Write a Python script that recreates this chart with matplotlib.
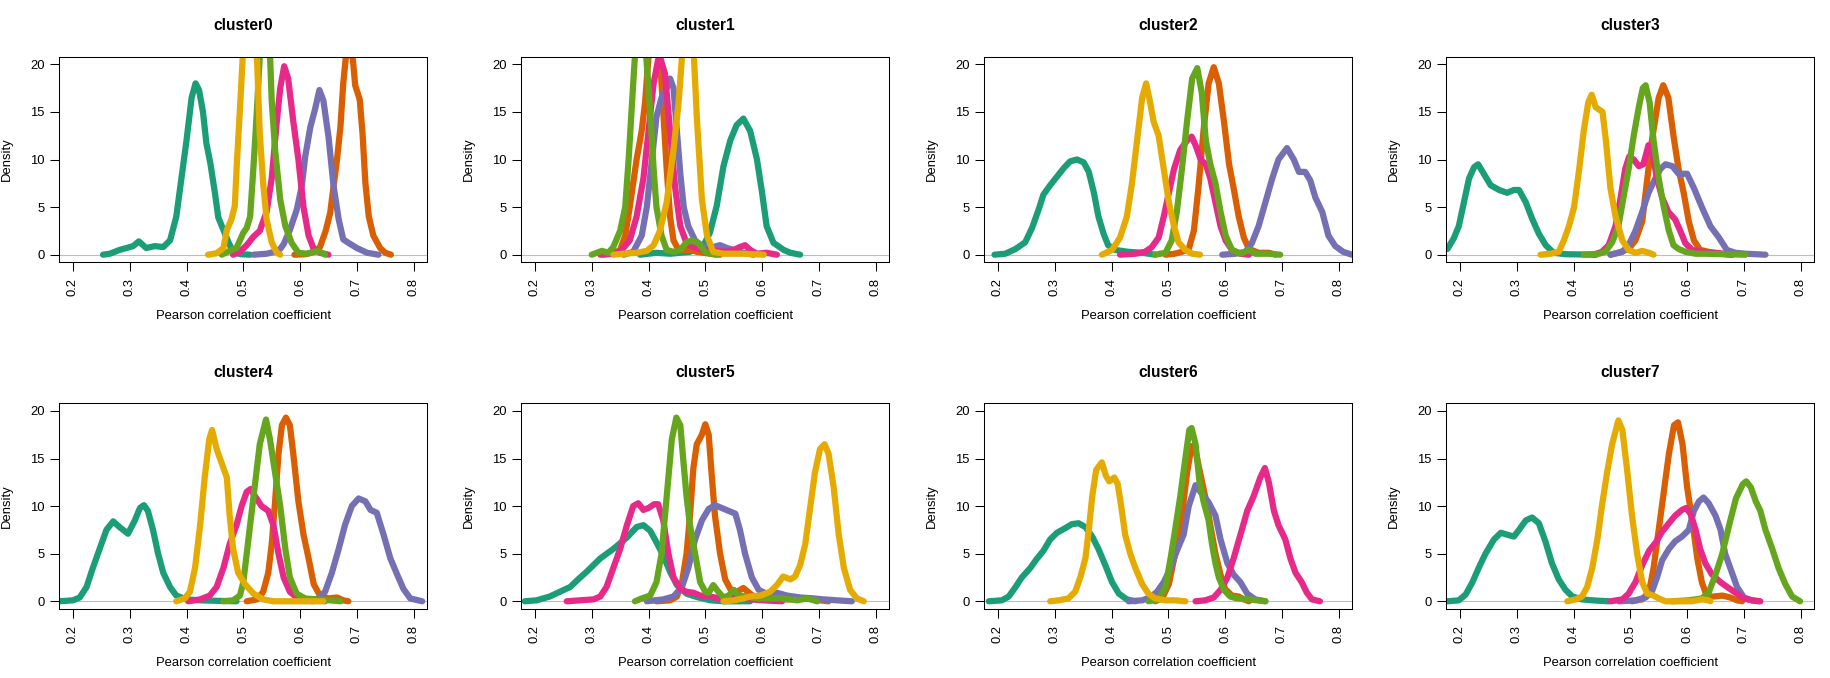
import matplotlib
matplotlib.use("Agg")
import matplotlib.pyplot as plt

plt.rcParams['font.family'] = ['Liberation Sans', 'DejaVu Sans']

# Dark2 colours, in drawing order
colors = ['#1B9E77', '#D95F02', '#7570B3', '#E7298A', '#66A61E', '#E6AB02']

titles = ['cluster0', 'cluster1', 'cluster2', 'cluster3',
          'cluster4', 'cluster5', 'cluster6', 'cluster7']
x_ticks = [0.2, 0.3, 0.4, 0.5, 0.6, 0.7, 0.8]
y_ticks = [0, 5, 10, 15, 20]

# density curves: (correlation, density)
# cluster0
c0_teal = [(0.253, 0), (0.265, 0.1), (0.282, 0.5), (0.300, 0.8), (0.306, 0.9), (0.316, 1.4),
           (0.329, 0.7), (0.344, 0.9), (0.359, 0.8), (0.371, 1.5), (0.382, 4.0), (0.391, 8.0),
           (0.400, 12.0), (0.409, 16.5), (0.416, 18.0), (0.422, 17.3), (0.429, 15.0), (0.435, 11.7),
           (0.442, 9.6), (0.450, 6.5), (0.456, 3.9), (0.465, 2.6), (0.474, 1.3), (0.482, 0.3),
           (0.495, 0.05), (0.512, 0)]
c0_orange = [(0.590, 0), (0.610, 0.05), (0.625, 0.3), (0.635, 0.8), (0.645, 2.5), (0.653, 4.4),
             (0.665, 10.0), (0.671, 13.4), (0.676, 18.0), (0.681, 21.0), (0.686, 22.0), (0.693, 20.5),
             (0.697, 17.8), (0.705, 16.3), (0.710, 12.7), (0.715, 7.5), (0.721, 4.0), (0.729, 2.0),
             (0.741, 0.7), (0.750, 0.2), (0.760, 0)]
c0_purple = [(0.518, 0), (0.541, 0.1), (0.555, 0.3), (0.565, 0.6), (0.571, 1.1), (0.582, 2.6),
             (0.594, 4.7), (0.603, 7.2), (0.609, 10.3), (0.618, 13.4), (0.626, 15.2), (0.634, 17.3),
             (0.641, 16.2), (0.650, 12.4), (0.659, 7.2), (0.668, 3.7), (0.676, 1.6), (0.685, 1.25),
             (0.700, 0.7), (0.718, 0.2), (0.738, 0)]
c0_pink = [(0.482, 0), (0.494, 0.3), (0.506, 1.0), (0.518, 1.9), (0.529, 2.5), (0.541, 4.5),
           (0.550, 8.0), (0.559, 14.0), (0.565, 17.5), (0.572, 19.8), (0.579, 18.5), (0.588, 14.0),
           (0.597, 10.0), (0.606, 5.0), (0.615, 2.0), (0.624, 0.6), (0.635, 0.2), (0.650, 0)]
c0_green = [(0.462, 0), (0.476, 0.4), (0.488, 0.7), (0.500, 2.3), (0.506, 2.8), (0.512, 4.0),
            (0.518, 9.3), (0.524, 15.2), (0.529, 20.8), (0.535, 24.0), (0.541, 24.5), (0.547, 21.0),
            (0.550, 16.2), (0.556, 11.0), (0.565, 5.8), (0.574, 3.0), (0.585, 1.25), (0.597, 0.2),
            (0.612, 0.1), (0.624, 0.3), (0.632, 0.4), (0.644, 0)]
c0_yellow = [(0.438, 0), (0.453, 0.15), (0.465, 0.7), (0.471, 2.6), (0.479, 3.7), (0.485, 5.1),
             (0.489, 10.0), (0.494, 15.2), (0.499, 20.8), (0.506, 25.0), (0.513, 26.0), (0.519, 24.0),
             (0.524, 20.8), (0.529, 12.7), (0.535, 7.5), (0.541, 3.7), (0.550, 1.3), (0.559, 0.2),
             (0.565, 0)]

# cluster1
c1_teal = [(0.385, 0), (0.414, 0.2), (0.438, 0.1), (0.473, 0.3), (0.497, 1.0), (0.508, 2.3),
           (0.520, 5.1), (0.532, 9.3), (0.544, 12.0), (0.555, 13.6), (0.567, 14.3), (0.579, 13.0),
           (0.591, 10.0), (0.600, 6.5), (0.608, 3.0), (0.620, 1.25), (0.638, 0.5), (0.650, 0.2),
           (0.667, 0)]
c1_orange = [(0.320, 0), (0.338, 0.1), (0.350, 0.5), (0.359, 2.0), (0.367, 5.0), (0.379, 10.0),
             (0.388, 13.0), (0.394, 16.0), (0.400, 20.8), (0.406, 23.0), (0.414, 23.0), (0.420, 20.8),
             (0.426, 15.0), (0.432, 9.0), (0.438, 4.0), (0.444, 1.5), (0.453, 0.5), (0.473, 0.5),
             (0.485, 0.3), (0.508, 0.1), (0.526, 0)]
c1_purple = [(0.356, 0), (0.373, 0.3), (0.388, 2.0), (0.397, 5.0), (0.406, 10.0), (0.414, 14.5),
             (0.423, 16.5), (0.432, 17.5), (0.438, 18.5), (0.444, 17.5), (0.450, 13.0), (0.456, 8.5),
             (0.462, 5.0), (0.470, 3.0), (0.482, 1.5), (0.497, 0.8), (0.514, 0.8), (0.526, 1.0),
             (0.538, 0.7), (0.550, 0.5), (0.567, 0.2), (0.585, 0)]
c1_pink = [(0.315, 0), (0.332, 0.1), (0.350, 0.3), (0.367, 1.5), (0.379, 4.0), (0.391, 8.0),
           (0.400, 13.0), (0.409, 18.0), (0.417, 20.5), (0.421, 20.6), (0.429, 19.0), (0.438, 13.0),
           (0.447, 7.0), (0.456, 3.0), (0.467, 1.2), (0.479, 0.8), (0.497, 0.5), (0.520, 0.4),
           (0.538, 0.3), (0.550, 0.5), (0.561, 0.8), (0.570, 1.0), (0.579, 0.5), (0.591, 0.1),
           (0.608, 0.2), (0.626, 0)]
c1_green = [(0.300, 0), (0.309, 0.2), (0.318, 0.4), (0.329, 0.2), (0.338, 0.8), (0.350, 2.5),
            (0.359, 5.0), (0.365, 10.0), (0.370, 15.0), (0.376, 20.8), (0.382, 24.0), (0.390, 25.0),
            (0.396, 20.8), (0.403, 15.0), (0.409, 9.0), (0.414, 5.0), (0.423, 2.0), (0.432, 0.5),
            (0.444, 0.3), (0.456, 0.5), (0.467, 1.3), (0.476, 1.5), (0.488, 1.2), (0.500, 0.3),
            (0.509, 0.1), (0.520, 0)]
c1_yellow = [(0.338, 0), (0.356, 0.1), (0.379, 0.2), (0.397, 0.4), (0.409, 1.0), (0.420, 2.5),
             (0.432, 5.5), (0.444, 11.0), (0.453, 16.0), (0.459, 20.8), (0.467, 24.0), (0.476, 22.0),
             (0.480, 20.8), (0.485, 14.5), (0.494, 5.8), (0.503, 2.0), (0.514, 0.3), (0.532, 0.1),
             (0.567, 0.1), (0.603, 0)]

# cluster2
c2_teal = [(0.194, 0), (0.213, 0.1), (0.231, 0.6), (0.248, 1.3), (0.260, 2.8), (0.272, 4.8),
           (0.280, 6.3), (0.292, 7.3), (0.304, 8.2), (0.316, 9.1), (0.327, 9.8), (0.339, 10.0),
           (0.351, 9.7), (0.360, 8.7), (0.369, 6.5), (0.377, 4.0), (0.386, 2.2), (0.394, 1.0),
           (0.406, 0.5), (0.430, 0.3), (0.454, 0.2), (0.477, 0)]
c2_orange = [(0.495, 0), (0.511, 0.1), (0.524, 0.3), (0.536, 0.6), (0.545, 2.5), (0.553, 7.0),
             (0.562, 13.0), (0.571, 18.0), (0.580, 19.7), (0.589, 18.0), (0.598, 14.0), (0.607, 9.5),
             (0.615, 7.0), (0.624, 4.0), (0.633, 1.8), (0.642, 0.6), (0.659, 0.2), (0.677, 0.2),
             (0.689, 0)]
c2_purple = [(0.595, 0), (0.618, 0.1), (0.636, 0.3), (0.647, 1.2), (0.659, 3.0), (0.671, 5.5),
             (0.683, 8.0), (0.694, 10.0), (0.709, 11.2), (0.721, 10.0), (0.730, 8.7), (0.741, 8.7),
             (0.750, 7.8), (0.759, 6.0), (0.771, 4.5), (0.782, 2.0), (0.794, 0.9), (0.808, 0.3),
             (0.823, 0)]
c2_pink = [(0.415, 0), (0.442, 0.1), (0.459, 0.3), (0.471, 0.8), (0.483, 1.8), (0.492, 4.0),
           (0.501, 6.5), (0.510, 9.0), (0.521, 11.0), (0.533, 12.0), (0.541, 12.4), (0.548, 11.5),
           (0.557, 10.0), (0.566, 9.5), (0.574, 8.0), (0.583, 5.5), (0.592, 3.0), (0.601, 1.5),
           (0.612, 0.5), (0.627, 0.1), (0.642, 0)]
c2_green = [(0.477, 0), (0.495, 0.2), (0.506, 1.5), (0.515, 4.5), (0.524, 9.0), (0.533, 14.0),
            (0.542, 18.5), (0.551, 19.6), (0.559, 17.0), (0.566, 12.0), (0.574, 9.5), (0.583, 7.5),
            (0.592, 4.5), (0.601, 2.0), (0.612, 0.5), (0.627, 0.1), (0.642, 0.5), (0.653, 0.1),
            (0.677, 0.1), (0.697, 0)]
c2_yellow = [(0.383, 0), (0.401, 0.5), (0.415, 1.8), (0.427, 4.0), (0.436, 7.5), (0.445, 12.0),
             (0.454, 16.5), (0.461, 18.0), (0.468, 16.0), (0.474, 14.0), (0.483, 12.5), (0.492, 9.0),
             (0.501, 5.5), (0.510, 3.0), (0.518, 1.3), (0.530, 0.5), (0.542, 0.1), (0.556, 0)]

# cluster3
c3_teal = [(0.178, 0.6), (0.189, 1.7), (0.198, 3.0), (0.207, 5.5), (0.216, 8.0), (0.225, 9.2),
           (0.232, 9.5), (0.242, 8.5), (0.254, 7.3), (0.269, 6.8), (0.283, 6.5), (0.295, 6.8),
           (0.304, 6.8), (0.316, 5.5), (0.327, 3.8), (0.339, 2.2), (0.351, 1.0), (0.365, 0.2),
           (0.386, 0.05), (0.440, 0)]
c3_orange = [(0.465, 0), (0.479, 0.2), (0.497, 0.6), (0.509, 1.5), (0.521, 3.5), (0.529, 7.5),
             (0.538, 12.0), (0.550, 16.5), (0.558, 17.8), (0.567, 16.5), (0.576, 12.5), (0.585, 9.0),
             (0.594, 6.5), (0.603, 3.5), (0.612, 1.5), (0.623, 0.5), (0.638, 0.3), (0.662, 0.1),
             (0.679, 0)]
c3_purple = [(0.465, 0), (0.486, 0.3), (0.497, 1.0), (0.509, 2.5), (0.521, 4.5), (0.532, 6.5),
             (0.544, 8.0), (0.553, 9.0), (0.562, 9.5), (0.574, 9.3), (0.585, 8.5), (0.600, 8.5),
             (0.612, 7.0), (0.626, 5.0), (0.641, 3.0), (0.656, 1.8), (0.670, 0.5), (0.685, 0.2),
             (0.703, 0.1), (0.738, 0)]
c3_pink = [(0.436, 0), (0.450, 0.3), (0.462, 1.0), (0.474, 3.0), (0.483, 6.0), (0.491, 9.0),
           (0.498, 10.3), (0.506, 10.0), (0.515, 9.3), (0.523, 9.5), (0.532, 11.5), (0.538, 11.0),
           (0.547, 8.0), (0.556, 6.0), (0.567, 4.5), (0.579, 3.7), (0.588, 2.5), (0.597, 1.2),
           (0.609, 0.5), (0.626, 0.3), (0.644, 0.2), (0.662, 0.1), (0.679, 0)]
c3_green = [(0.418, 0), (0.445, 0.1), (0.456, 0.3), (0.468, 1.3), (0.479, 3.0), (0.488, 6.0),
            (0.497, 9.0), (0.506, 12.5), (0.515, 15.5), (0.522, 17.5), (0.527, 17.8), (0.534, 16.0),
            (0.541, 12.0), (0.550, 8.0), (0.559, 5.0), (0.568, 2.5), (0.576, 1.0), (0.585, 0.6),
            (0.597, 0.3), (0.615, 0.1), (0.632, 0.1), (0.662, 0.05), (0.703, 0)]
c3_yellow = [(0.342, 0), (0.360, 0.1), (0.374, 0.3), (0.383, 1.5), (0.392, 3.0), (0.401, 5.0),
             (0.410, 9.0), (0.418, 13.0), (0.426, 16.0), (0.432, 16.8), (0.439, 15.5), (0.451, 15.0),
             (0.457, 12.0), (0.465, 7.0), (0.474, 4.0), (0.486, 1.5), (0.497, 0.5), (0.509, 0.2),
             (0.521, 0.4), (0.533, 0.2), (0.541, 0)]

# cluster4
c4_teal = [(0.176, 0), (0.200, 0.1), (0.212, 0.4), (0.224, 1.5), (0.235, 3.5), (0.247, 5.5),
           (0.259, 7.5), (0.271, 8.4), (0.282, 7.8), (0.297, 7.1), (0.309, 8.5), (0.318, 9.8),
           (0.325, 10.1), (0.332, 9.5), (0.341, 7.5), (0.350, 5.0), (0.359, 3.0), (0.371, 1.5),
           (0.382, 0.6), (0.400, 0.2), (0.424, 0.1), (0.453, 0.05), (0.488, 0)]
c4_orange = [(0.506, 0), (0.524, 0.2), (0.535, 1.0), (0.544, 3.0), (0.550, 6.0), (0.556, 10.5),
             (0.562, 15.5), (0.568, 18.5), (0.575, 19.3), (0.582, 18.5), (0.588, 15.5), (0.597, 10.5),
             (0.606, 7.0), (0.615, 4.5), (0.624, 1.8), (0.635, 0.6), (0.650, 0.3), (0.665, 0.4),
             (0.676, 0.1), (0.685, 0)]
c4_purple = [(0.621, 0), (0.632, 0.3), (0.644, 1.0), (0.656, 3.0), (0.668, 5.5), (0.679, 8.0),
             (0.691, 10.0), (0.703, 10.8), (0.715, 10.5), (0.724, 9.6), (0.735, 9.3), (0.747, 7.0),
             (0.759, 4.5), (0.771, 2.8), (0.782, 1.3), (0.794, 0.3), (0.815, 0)]
c4_pink = [(0.403, 0), (0.424, 0.2), (0.441, 0.6), (0.453, 1.5), (0.465, 3.5), (0.476, 6.0),
           (0.488, 8.0), (0.497, 10.0), (0.506, 11.5), (0.513, 11.8), (0.521, 11.0), (0.532, 10.0),
           (0.544, 9.5), (0.553, 8.0), (0.562, 5.0), (0.571, 2.5), (0.582, 1.0), (0.594, 0.4),
           (0.612, 0.2), (0.629, 0.2), (0.644, 0)]
c4_green = [(0.465, 0), (0.482, 0.1), (0.494, 0.6), (0.500, 2.0), (0.506, 5.0), (0.513, 8.5),
            (0.521, 12.5), (0.529, 16.5), (0.540, 19.1), (0.547, 17.0), (0.556, 13.5), (0.565, 10.0),
            (0.574, 5.5), (0.582, 2.5), (0.594, 0.8), (0.609, 0.3), (0.629, 0.2), (0.653, 0.1),
            (0.671, 0)]
c4_yellow = [(0.382, 0), (0.397, 0.3), (0.406, 1.0), (0.415, 3.5), (0.424, 8.0), (0.432, 13.0),
             (0.440, 17.0), (0.445, 18.0), (0.453, 16.0), (0.462, 14.5), (0.471, 13.0), (0.476, 9.0),
             (0.482, 5.5), (0.491, 3.0), (0.503, 1.8), (0.518, 0.8), (0.535, 0.2), (0.553, 0),
             (0.641, 0)]

# cluster5
c5_teal = [(0.182, 0), (0.203, 0.1), (0.226, 0.5), (0.244, 1.0), (0.262, 1.5), (0.276, 2.3),
           (0.291, 3.1), (0.315, 4.5), (0.338, 5.5), (0.362, 6.7), (0.379, 7.8), (0.391, 8.0),
           (0.403, 7.4), (0.414, 6.2), (0.426, 4.8), (0.438, 3.1), (0.450, 1.7), (0.467, 0.8),
           (0.485, 0.45), (0.509, 0.1), (0.532, 0), (0.579, 0)]
c5_orange = [(0.414, 0), (0.438, 0.1), (0.450, 0.5), (0.459, 2.0), (0.467, 5.0), (0.473, 9.0),
             (0.479, 14.0), (0.485, 16.5), (0.494, 17.5), (0.500, 18.6), (0.506, 17.5), (0.511, 13.5),
             (0.517, 9.0), (0.526, 5.0), (0.535, 2.3), (0.544, 1.3), (0.556, 1.0), (0.567, 1.4),
             (0.579, 0.8), (0.591, 0.3), (0.614, 0.2), (0.650, 0.2), (0.685, 0.3), (0.702, 0.1),
             (0.717, 0)]
c5_purple = [(0.397, 0), (0.426, 0.2), (0.444, 0.5), (0.459, 1.5), (0.470, 3.5), (0.482, 6.5),
             (0.494, 8.5), (0.506, 9.7), (0.517, 10.1), (0.529, 9.8), (0.541, 9.5), (0.553, 9.2),
             (0.561, 7.5), (0.570, 5.0), (0.582, 2.5), (0.594, 1.2), (0.608, 0.8), (0.626, 0.9),
             (0.644, 0.6), (0.667, 0.4), (0.691, 0.3), (0.708, 0.2), (0.732, 0.1), (0.758, 0)]
c5_pink = [(0.256, 0), (0.279, 0.1), (0.303, 0.2), (0.315, 0.5), (0.326, 1.5), (0.338, 3.5),
           (0.350, 5.5), (0.362, 8.0), (0.373, 10.0), (0.382, 10.3), (0.391, 9.6), (0.400, 9.8),
           (0.410, 10.2), (0.417, 10.2), (0.426, 8.5), (0.435, 5.0), (0.444, 2.5), (0.456, 1.3),
           (0.467, 1.0), (0.479, 0.9), (0.491, 0.6), (0.508, 0.5), (0.526, 0.3), (0.544, 0.5),
           (0.561, 0.4), (0.579, 0.2), (0.603, 0.1), (0.635, 0)]
c5_green = [(0.376, 0), (0.388, 0.3), (0.403, 0.6), (0.414, 2.0), (0.423, 5.0), (0.429, 9.0),
            (0.435, 13.0), (0.441, 17.0), (0.449, 19.3), (0.456, 18.5), (0.461, 15.0), (0.467, 11.0),
            (0.473, 8.0), (0.482, 5.0), (0.491, 2.0), (0.500, 1.0), (0.506, 0.9), (0.514, 1.7),
            (0.523, 1.0), (0.532, 0.4), (0.541, 0.6), (0.550, 1.2), (0.558, 0.6), (0.573, 0.5),
            (0.591, 0.3), (0.614, 0.3), (0.635, 0.3), (0.650, 0.2), (0.662, 0.1), (0.679, 0.3),
            (0.697, 0)]
c5_yellow = [(0.532, 0), (0.550, 0.1), (0.567, 0.3), (0.579, 0.5), (0.597, 0.6), (0.614, 1.0),
             (0.626, 1.7), (0.637, 2.6), (0.650, 2.3), (0.658, 2.6), (0.667, 3.8), (0.676, 6.0),
             (0.685, 10.0), (0.693, 13.5), (0.702, 16.0), (0.710, 16.5), (0.717, 15.5), (0.726, 12.0),
             (0.735, 7.0), (0.744, 3.5), (0.755, 1.2), (0.767, 0.3), (0.779, 0)]

# cluster6
c6_teal = [(0.184, 0), (0.207, 0.1), (0.219, 0.5), (0.231, 1.5), (0.242, 2.5), (0.257, 3.5),
           (0.269, 4.5), (0.280, 5.3), (0.292, 6.5), (0.304, 7.2), (0.319, 7.7), (0.330, 8.1),
           (0.342, 8.2), (0.354, 7.8), (0.366, 6.8), (0.377, 5.5), (0.389, 3.8), (0.401, 2.0),
           (0.413, 0.8), (0.427, 0.2), (0.442, 0)]
c6_orange = [(0.477, 0), (0.489, 0.3), (0.501, 1.8), (0.512, 5.0), (0.524, 9.0), (0.533, 13.5),
             (0.541, 16.3), (0.548, 15.8), (0.556, 13.5), (0.565, 11.0), (0.574, 8.0), (0.583, 5.0),
             (0.592, 2.8), (0.600, 1.3), (0.612, 0.6), (0.624, 0.5), (0.633, 0.2), (0.642, 0)]
c6_purple = [(0.430, 0), (0.454, 0.1), (0.468, 0.4), (0.480, 1.0), (0.492, 2.0), (0.504, 3.5),
             (0.515, 5.3), (0.527, 7.0), (0.536, 10.0), (0.548, 12.2), (0.559, 11.3), (0.571, 10.4),
             (0.583, 9.0), (0.592, 6.5), (0.604, 4.0), (0.615, 2.8), (0.627, 2.0), (0.639, 0.8),
             (0.653, 0.2), (0.671, 0)]
c6_pink = [(0.548, 0), (0.565, 0.1), (0.580, 0.4), (0.592, 1.2), (0.604, 2.5), (0.615, 4.5),
           (0.627, 7.0), (0.639, 9.5), (0.650, 11.0), (0.662, 13.0), (0.670, 14.0), (0.677, 12.5),
           (0.686, 9.5), (0.694, 8.0), (0.706, 6.5), (0.715, 4.5), (0.724, 3.0), (0.735, 2.0),
           (0.744, 0.9), (0.753, 0.2), (0.767, 0)]
c6_green = [(0.465, 0), (0.483, 0.2), (0.495, 1.5), (0.504, 4.5), (0.512, 7.5), (0.521, 11.0),
            (0.530, 15.0), (0.537, 18.0), (0.541, 18.2), (0.548, 16.5), (0.555, 12.5), (0.562, 10.5),
            (0.571, 8.5), (0.577, 6.0), (0.583, 4.0), (0.589, 2.5), (0.598, 1.2), (0.609, 0.5),
            (0.621, 0.3), (0.642, 0.2), (0.671, 0)]
c6_yellow = [(0.292, 0), (0.307, 0.1), (0.324, 0.3), (0.336, 1.0), (0.345, 2.5), (0.354, 4.5),
             (0.360, 7.5), (0.366, 11.0), (0.373, 13.8), (0.383, 14.6), (0.390, 13.2), (0.396, 12.6),
             (0.405, 13.0), (0.411, 12.3), (0.417, 10.0), (0.424, 7.0), (0.433, 5.0), (0.442, 3.5),
             (0.454, 1.8), (0.465, 0.8), (0.477, 0.3), (0.495, 0.1), (0.512, 0.1), (0.530, 0)]

# cluster7
c7_teal = [(0.178, 0), (0.198, 0.1), (0.210, 0.7), (0.222, 2.0), (0.233, 3.5), (0.245, 5.0),
           (0.260, 6.5), (0.272, 7.2), (0.283, 7.0), (0.295, 6.8), (0.304, 7.5), (0.316, 8.5),
           (0.327, 8.8), (0.339, 8.2), (0.351, 6.2), (0.362, 4.0), (0.374, 2.3), (0.386, 1.2),
           (0.398, 0.5), (0.415, 0.2), (0.433, 0.1), (0.462, 0)]
c7_orange = [(0.503, 0), (0.521, 0.2), (0.533, 1.0), (0.541, 3.5), (0.550, 7.5), (0.559, 11.5),
             (0.568, 15.5), (0.577, 18.5), (0.584, 18.8), (0.592, 16.5), (0.600, 12.0), (0.609, 8.5),
             (0.618, 4.5), (0.626, 2.0), (0.635, 0.5), (0.647, 0.5), (0.662, 0.6), (0.676, 0.4),
             (0.688, 0.1), (0.697, 0)]
c7_purple = [(0.480, 0), (0.509, 0.1), (0.527, 0.4), (0.538, 1.0), (0.547, 2.5), (0.556, 4.3),
             (0.568, 5.5), (0.579, 6.3), (0.591, 6.8), (0.603, 7.5), (0.612, 9.5), (0.621, 10.5),
             (0.629, 10.9), (0.638, 10.3), (0.650, 9.0), (0.659, 7.5), (0.667, 5.0), (0.679, 3.0),
             (0.688, 1.5), (0.700, 0.4), (0.714, 0.1), (0.726, 0)]
c7_pink = [(0.465, 0), (0.486, 0.2), (0.497, 0.8), (0.509, 2.0), (0.521, 3.8), (0.533, 5.3),
           (0.545, 6.2), (0.556, 7.3), (0.568, 8.2), (0.579, 9.0), (0.591, 9.6), (0.598, 9.8),
           (0.606, 9.2), (0.615, 7.5), (0.623, 5.5), (0.632, 4.0), (0.644, 2.8), (0.659, 2.0),
           (0.673, 1.4), (0.688, 0.8), (0.700, 0.3), (0.714, 0.1), (0.729, 0)]
c7_green = [(0.574, 0), (0.603, 0.1), (0.626, 0.3), (0.638, 0.9), (0.650, 2.8), (0.662, 5.0),
            (0.674, 8.0), (0.686, 10.8), (0.698, 12.3), (0.704, 12.6), (0.712, 12.0), (0.721, 10.5),
            (0.729, 9.5), (0.738, 7.5), (0.750, 5.5), (0.761, 3.5), (0.773, 1.8), (0.785, 0.5),
            (0.799, 0)]
c7_yellow = [(0.389, 0), (0.404, 0.2), (0.415, 0.5), (0.424, 1.5), (0.433, 3.5), (0.442, 6.5),
             (0.450, 10.0), (0.459, 13.5), (0.468, 16.5), (0.479, 19.0), (0.486, 18.0), (0.494, 14.0),
             (0.503, 9.0), (0.512, 5.0), (0.521, 2.0), (0.530, 0.8), (0.541, 0.6), (0.550, 0.3),
             (0.562, 0), (0.608, 0), (0.626, 0.2), (0.638, 0.1), (0.641, 0)]

panels = [
    [c0_teal, c0_orange, c0_purple, c0_pink, c0_green, c0_yellow],
    [c1_teal, c1_orange, c1_purple, c1_pink, c1_green, c1_yellow],
    [c2_teal, c2_orange, c2_purple, c2_pink, c2_green, c2_yellow],
    [c3_teal, c3_orange, c3_purple, c3_pink, c3_green, c3_yellow],
    [c4_teal, c4_orange, c4_purple, c4_pink, c4_green, c4_yellow],
    [c5_teal, c5_orange, c5_purple, c5_pink, c5_green, c5_yellow],
    [c6_teal, c6_orange, c6_purple, c6_pink, c6_green, c6_yellow],
    [c7_teal, c7_orange, c7_purple, c7_pink, c7_green, c7_yellow],
]

W, H = 1830, 678
fig = plt.figure(figsize=(W / 100, H / 100), dpi=100)

# plot box positions in pixels
box_left = [59.3, 521.3, 984.3, 1446.3]
box_top = [56.7, 403.3]
box_w, box_h = 368, 205.6

for i, (title, curves) in enumerate(zip(titles, panels)):
    row, col = divmod(i, 4)
    ax = fig.add_axes([box_left[col] / W, 1 - (box_top[row] + box_h) / H, box_w / W, box_h / H])

    ax.axhline(0, color='#BEBEBE', lw=0.8, zorder=1)
    for pts, c in zip(curves, colors):
        xs = [p[0] for p in pts]
        ys = [p[1] for p in pts]
        ax.plot(xs, ys, color=c, lw=4.5, solid_capstyle='round', solid_joinstyle='round', zorder=2)

    ax.set_xlim(0.176, 0.824)
    ax.set_ylim(-0.8, 20.8)
    ax.set_xticks(x_ticks)
    ax.set_xticklabels([f"{t:.1f}" for t in x_ticks], rotation=90)
    ax.set_yticks(y_ticks)
    ax.set_yticklabels([str(t) for t in y_ticks])
    ax.tick_params(direction='out', length=6.5, width=0.75, labelsize=9.4, colors='black')
    ax.tick_params(axis='x', pad=5)
    ax.tick_params(axis='y', pad=4)
    for s in ax.spines.values():
        s.set_linewidth(0.75)
        s.set_color('black')

    ax.text(0.5, 1.151, title, transform=ax.transAxes, ha='center', va='center',
            fontsize=11.2, fontweight='bold')
    ax.text(0.5, -0.261, 'Pearson correlation coefficient', transform=ax.transAxes,
            ha='center', va='center', fontsize=9.4)
    ax.text(-0.143, 0.5, 'Density', transform=ax.transAxes, rotation=90,
            ha='center', va='center', fontsize=9.4)

fig.savefig('out.png', dpi=100)
